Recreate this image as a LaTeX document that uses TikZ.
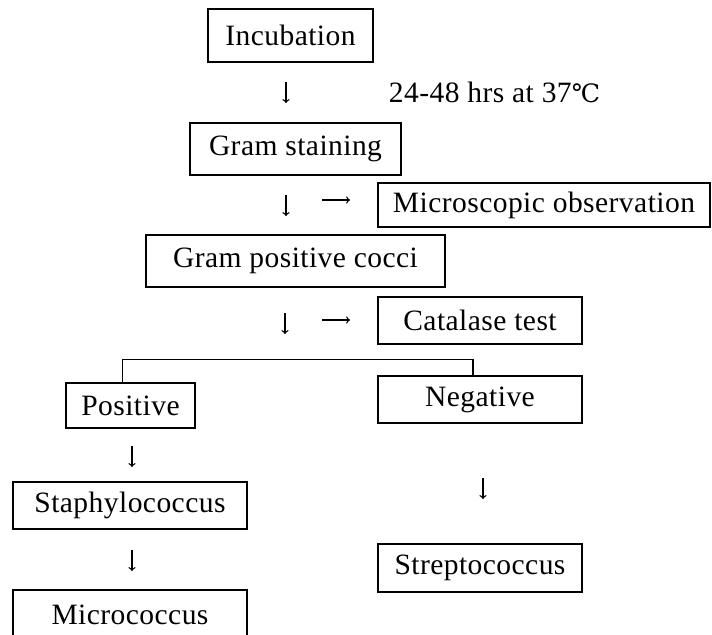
\documentclass[tikz,border=0pt]{standalone}
\usepackage{fontspec}
\setmainfont{Liberation Serif}[LetterSpace=1.5]
\newfontfamily\degfont{DejaVu Serif}
\usepackage{tikz}

\tikzset{
	stage/.style={draw, line width=1pt, inner sep=0pt, font=\fontsize{21}{24}\selectfont},
	note/.style={inner sep=0pt, font=\fontsize{21}{24}\selectfont},
	arr/.style={->, line width=0.9pt}
}

\begin{document}
\begin{tikzpicture}[x=0.025cm, y=-0.025cm]
			\useasboundingbox (0,0) rectangle (712,634);

			\node[stage, minimum width=4.125cm, minimum height=1.325cm] (inc) at (290.5,35.5) {Incubation};
			\node[note] (time) at (494.5,92) {24-48 hrs at 37{\degfont\fontsize{18}{24}\selectfont ℃}};
			\node[stage, minimum width=5.275cm, minimum height=1.3cm] (gram) at (295.5,149) {Gram staining};
			\node[stage, minimum width=8.3cm, minimum height=1.1cm] (micro) at (544,205) {Microscopic observation};
			\node[stage, minimum width=7.475cm, minimum height=1.3cm] (gpc) at (295.5,261) {Gram positive cocci};
			\node[stage, minimum width=5.1cm, minimum height=1.175cm] (cat) at (480,320.5) {Catalase test};
			\node[stage, minimum width=3.225cm, minimum height=1.125cm] (pos) at (130.5,405.5) {Positive};
			\node[stage, minimum width=5.1cm, minimum height=1.175cm] (neg) at (480,399.5) {Negative};
			\node[stage, minimum width=5.85cm, minimum height=1.175cm] (staph) at (130,505.5) {Staphylococcus};
			\node[stage, minimum width=5.85cm, minimum height=1.25cm] (micc) at (130,615) {Micrococcus};
			\node[stage, minimum width=5.1cm, minimum height=1.2cm] (strep) at (480,568) {Streptococcus};

			\foreach \n/\x/\y in {d1/286/82, d2/286/195, d3/285/313, d4/132/446, d5/132/550, d6/483/478}
			{
				\coordinate (\n) at (\x,\y);
				\draw[arr] (\n) -- ++(0,21);
			}

			\foreach \n/\x/\y in {r1/322/200, r2/322/320}
			{
				\coordinate (\n) at (\x,\y);
				\draw[arr] (\n) -- ++(28,0);
			}

			\draw[line width=1pt] ([xshift=-0.2cm]pos.north) -- ++(0,-23) -| ([xshift=-0.175cm]neg.north);
		\end{tikzpicture}
\end{document}
